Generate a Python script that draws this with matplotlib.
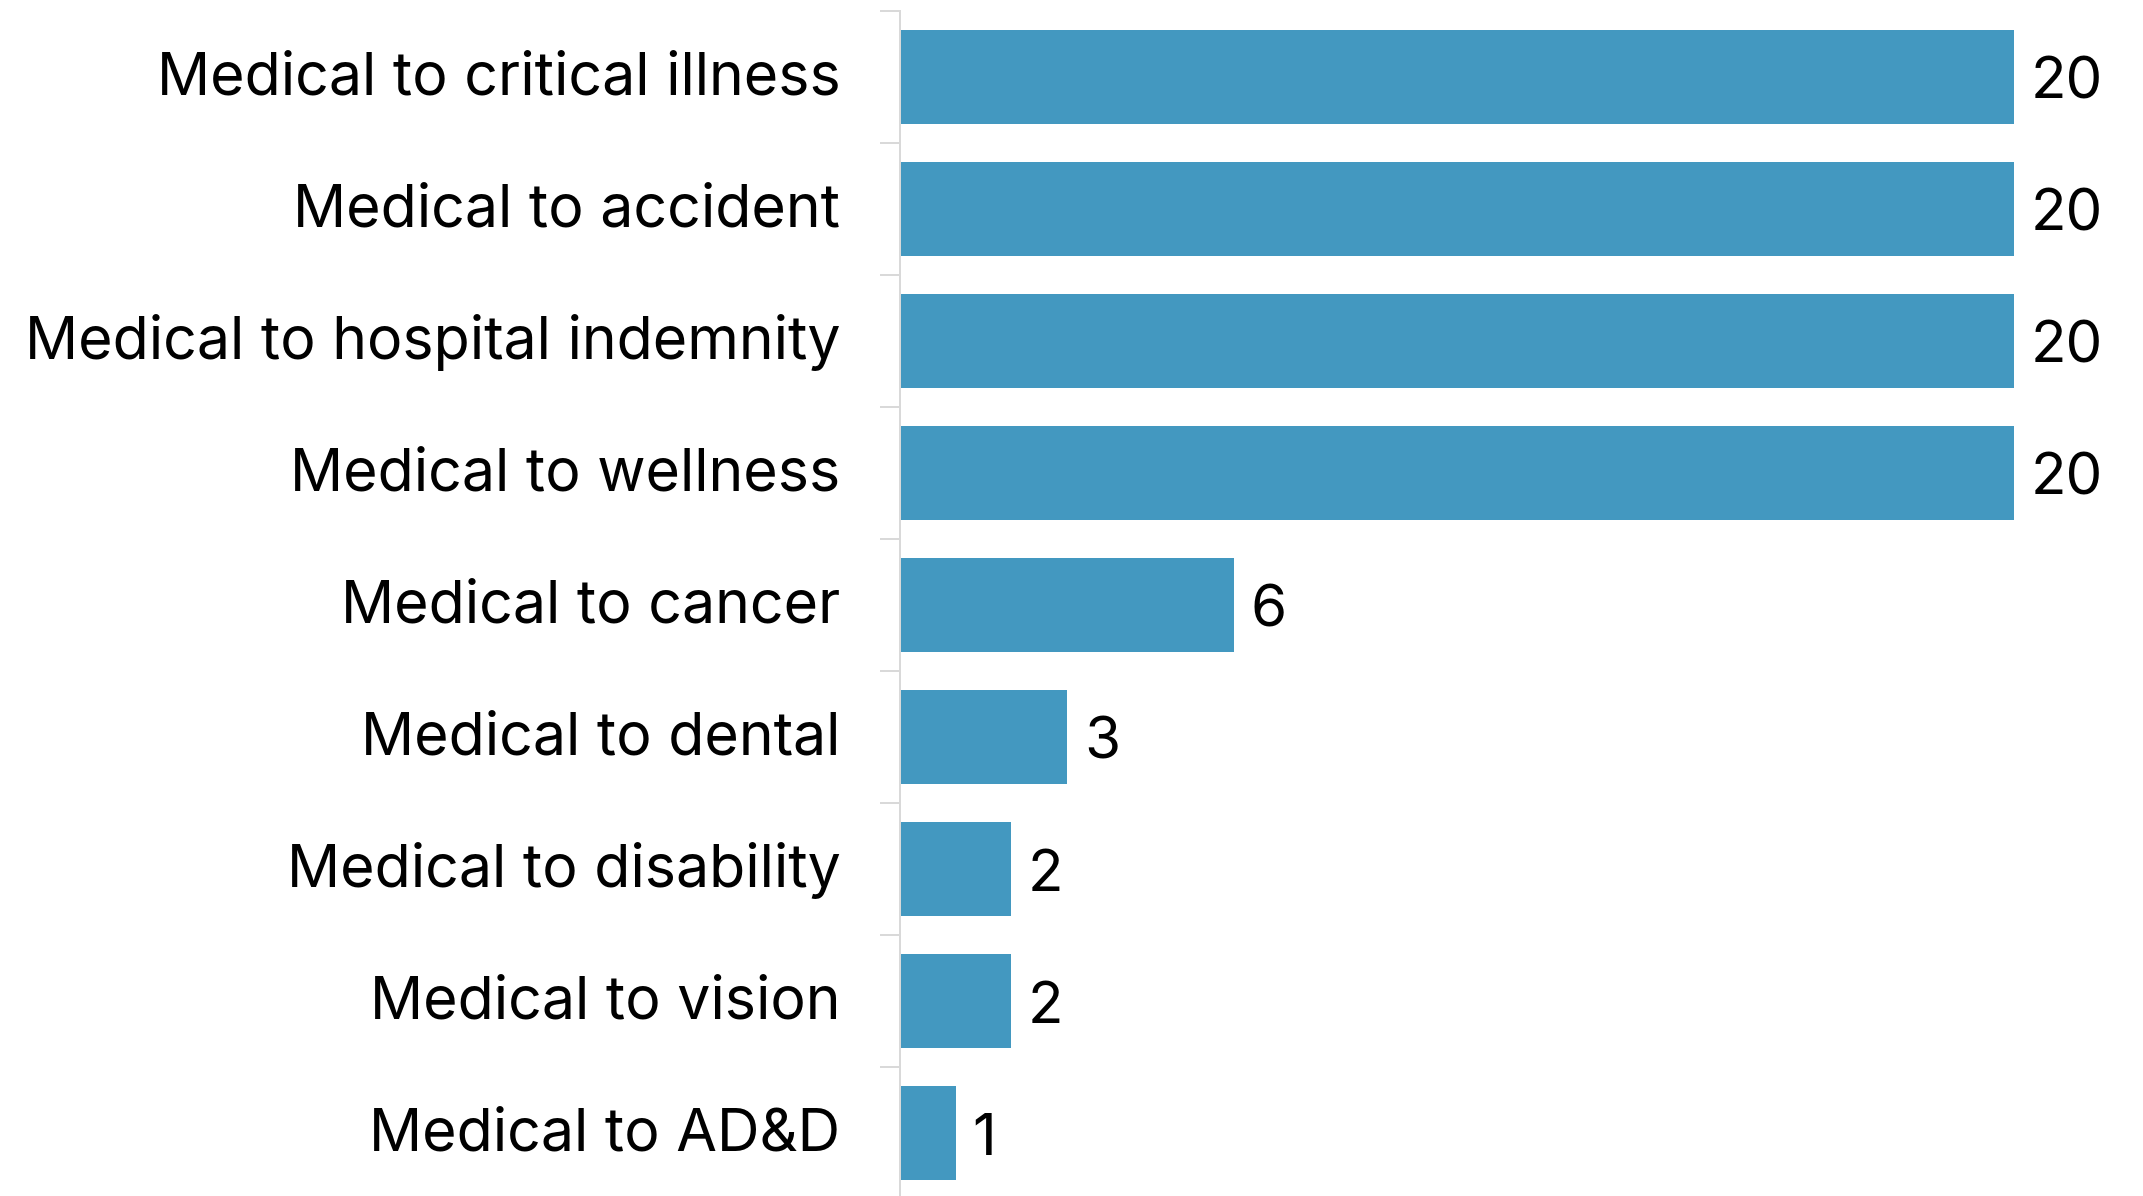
import numpy as np
import matplotlib.pyplot as plt
import matplotlib.transforms as mtransforms

categories = [
    "Medical to critical illness",
    "Medical to accident",
    "Medical to hospital indemnity",
    "Medical to wellness",
    "Medical to cancer",
    "Medical to dental",
    "Medical to disability",
    "Medical to vision",
    "Medical to AD&D",
]
counts = [20, 20, 20, 20, 6, 3, 2, 2, 1]

bar_color = "#4398c0"
grid_color = "#d9d9d9"
plt.rcParams["font.family"] = ["Inter", "DejaVu Sans"]

fig = plt.figure(figsize=(21.43, 11.96), dpi=100)
ax = fig.add_axes([900 / 2143, -3 / 1196, 1 - 900 / 2143, 1188 / 1196])

y = np.arange(len(categories))
bars = ax.barh(y, counts, height=0.705, color=bar_color)

for rect, v in zip(bars, counts):
    ax.annotate(str(v), (rect.get_width(), rect.get_y() + rect.get_height() / 2),
                xytext=(12, -5), textcoords="offset points",
                ha="left", va="center", fontsize=42, color="black")

ax.set_xlim(0, 1243 / 55.7)
ax.set_ylim(len(categories) - 0.5, -0.5)

# labels at bar centres, tick marks between categories
ax.set_yticks(y)
ax.set_yticklabels(categories, fontsize=42.5)
ax.set_yticks(np.arange(-0.5, len(categories), 1), minor=True)
ax.tick_params(axis="y", which="major", length=0, pad=43)
ax.tick_params(axis="y", which="minor", length=14.4, width=1.44, color=grid_color)
ax.set_xticks([])

shift = mtransforms.ScaledTranslation(0, 3 / 72, fig.dpi_scale_trans)
for lbl in ax.get_yticklabels():
    lbl.set_transform(lbl.get_transform() + shift)

for side in ["top", "right", "bottom"]:
    ax.spines[side].set_visible(False)
ax.spines["left"].set_color(grid_color)
ax.spines["left"].set_linewidth(1.44)

fig.savefig("out.png", dpi=100)
